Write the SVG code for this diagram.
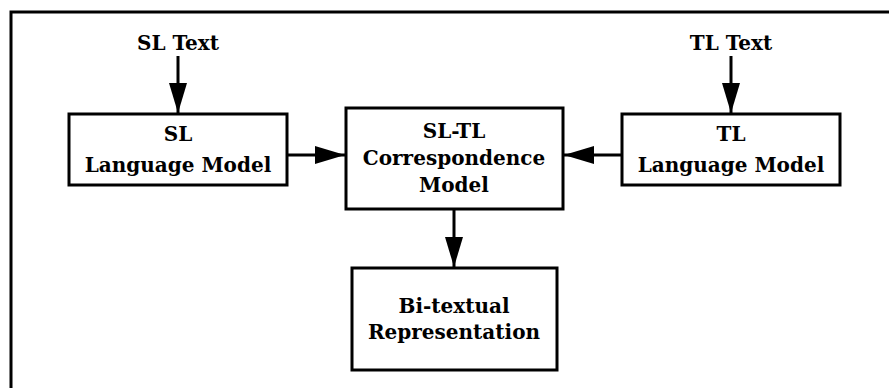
<svg xmlns="http://www.w3.org/2000/svg" width="889" height="388" viewBox="0 0 889 388">
<defs>
<style>
.box{fill:#fff;stroke:#000;stroke-width:3}
.frame{fill:none;stroke:#000;stroke-width:3}
.line{fill:none;stroke:#000;stroke-width:3}
.t{font-family:"DejaVu Serif","Liberation Serif",serif;font-size:20px;font-weight:bold;text-anchor:middle;fill:#000}
</style>
<marker id="ah" viewBox="0 0 30 18" refX="30" refY="9" markerWidth="30" markerHeight="18" markerUnits="userSpaceOnUse" orient="auto">
<path d="M0,0 L30,9 L0,18 Z" fill="#000"/>
</marker>
</defs>
<rect width="889" height="388" fill="#fff"/>
<path class="frame" d="M11,388 L11,12 L889,12"/>
<g id="connectors">
<line class="line" x1="178" y1="56" x2="178" y2="113" marker-end="url(#ah)"/>
<line class="line" x1="731" y1="56" x2="731" y2="113" marker-end="url(#ah)"/>
<line class="line" x1="287" y1="155" x2="345" y2="155" marker-end="url(#ah)"/>
<line class="line" x1="621" y1="155" x2="564" y2="155" marker-end="url(#ah)"/>
<line class="line" x1="454" y1="209" x2="454" y2="267" marker-end="url(#ah)"/>
</g>
<g id="sl-text"><text class="t" x="178" y="50">SL Text</text></g>
<g id="tl-text"><text class="t" x="731" y="50">TL Text</text></g>
<g id="sl-lm">
<rect class="box" x="69" y="114" width="218" height="71"/>
<text class="t" x="178" y="141">SL</text>
<text class="t" x="178" y="172">Language Model</text>
</g>
<g id="corr">
<rect class="box" x="346" y="108" width="217" height="101"/>
<text class="t" x="454" y="138">SL-TL</text>
<text class="t" x="454" y="165">Correspondence</text>
<text class="t" x="454" y="192">Model</text>
</g>
<g id="tl-lm">
<rect class="box" x="622" y="114" width="218" height="71"/>
<text class="t" x="731" y="141">TL</text>
<text class="t" x="731" y="172">Language Model</text>
</g>
<g id="bitext">
<rect class="box" x="352" y="268" width="205" height="102"/>
<text class="t" x="454" y="313">Bi-textual</text>
<text class="t" x="454" y="339">Representation</text>
</g>
</svg>
